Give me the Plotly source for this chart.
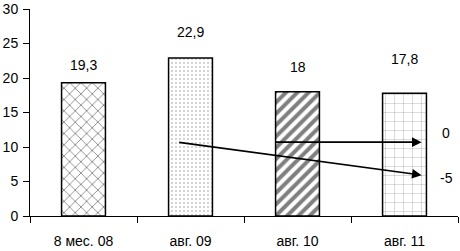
import plotly.graph_objects as go

categories = ["8 мес. 08", "авг. 09", "авг. 10", "авг. 11"]
values = [19.3, 22.9, 18, 17.8]
value_labels = ["19,3", "22,9", "18", "17,8"]
label_shifts = [18, 26, 25, 34]
patterns = ["x", ".", "/", "+"]
pattern_sizes = [8, 4, 8, 9]
pattern_solidity = [0.2, 0.08, 0.5, 0.06]

# trend arrows (secondary axis values)
arrow_start_x = [1.78, 0.88]
arrow_end_x = [3.16, 3.16]
arrow_start_y = [0, 0]
arrow_end_y = [0, -5]
arrow_labels = ["0", "-5"]

FONT = "Liberation Sans, Arial"

fig = go.Figure()
fig.add_trace(go.Bar(
    x=categories, y=values, width=0.41,
    marker=dict(color="white", line=dict(color="black", width=1.5),
                pattern=dict(shape=patterns, size=pattern_sizes,
                             solidity=pattern_solidity, fgcolor="black",
                             bgcolor="white", fillmode="overlay")),
    showlegend=False, hoverinfo="skip",
))
fig.add_trace(go.Scatter(x=[categories[0]], y=[0], yaxis="y2", mode="markers",
                         marker=dict(opacity=0), showlegend=False, hoverinfo="skip"))

annotations = []
for i, (v, t, s) in enumerate(zip(values, value_labels, label_shifts)):
    annotations.append(dict(x=i, y=v, xref="x", yref="y", text=t, showarrow=False,
                            yshift=s, font=dict(size=14, color="black", family=FONT)))
for sx, ex, sy, ey, lab, lshift in zip(arrow_start_x, arrow_end_x, arrow_start_y,
                                       arrow_end_y, arrow_labels, [9, -3]):
    annotations.append(dict(x=ex, y=ey, xref="x", yref="y2", ax=sx, ay=sy,
                            axref="x", ayref="y2", text="", showarrow=True,
                            arrowhead=2, arrowsize=1.2, arrowwidth=1.6,
                            arrowcolor="black", standoff=0, startstandoff=0))
    annotations.append(dict(x=3.39, y=ey, xref="x", yref="y2", text=lab,
                            showarrow=False, yshift=lshift,
                            font=dict(size=14, color="black", family=FONT)))

fig.update_layout(
    width=460, height=251,
    margin=dict(l=30, r=2, t=9, b=35),
    paper_bgcolor="white", plot_bgcolor="white",
    font=dict(family=FONT, size=14, color="black"),
    xaxis=dict(type="category", range=[-0.5, 3.5], showline=True, linecolor="black",
               linewidth=1, ticks="outside", tickson="boundaries", ticklen=6,
               tickcolor="black", showgrid=False, ticklabelstandoff=12,
               zeroline=False, automargin=False, tickfont=dict(size=14)),
    yaxis=dict(range=[0, 30], dtick=5, showline=True, linecolor="black", linewidth=1,
               ticks="outside", ticklen=6, tickcolor="black", showgrid=False,
               zeroline=False, ticklabelstandoff=2, automargin=False,
               tickfont=dict(size=14)),
    yaxis2=dict(overlaying="y", range=[-11.2, 20.2], visible=False),
    annotations=annotations,
)

fig.write_html("out.html", config={"displayModeBar": False},
               post_script="document.body.style.margin='0';document.body.style.overflow='hidden';")
